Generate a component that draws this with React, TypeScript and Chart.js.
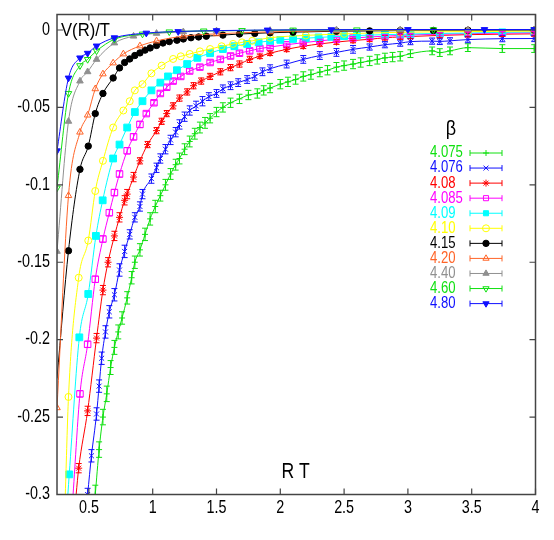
import React, { useEffect, useRef } from 'react';
import { Chart, registerables } from 'chart.js';
import { drawPoint } from 'chart.js/helpers';

Chart.register(...registerables);

// ---------------- data ----------------
const betaLabels = ['4.075', '4.076', '4.08', '4.085', '4.09', '4.10', '4.15', '4.20', '4.40', '4.60', '4.80'];

const xTickValues = [0.5, 1, 1.5, 2, 2.5, 3, 3.5, 4];
const xTickLabels = ['0.5', '1', '1.5', '2', '2.5', '3', '3.5', '4'];
const yTickValues = [-0.3, -0.25, -0.2, -0.15, -0.1, -0.05, 0];
const yTickLabels = ['-0.3', '-0.25', '-0.2', '-0.15', '-0.1', '-0.05', '0'];

const x4075 = [0.55, 0.58, 0.61, 0.64, 0.67, 0.70, 0.73, 0.76, 0.80, 0.835, 0.86, 0.90, 0.94, 0.98, 1.02, 1.06, 1.10, 1.14, 1.18, 1.21, 1.25, 1.29, 1.33, 1.37, 1.41, 1.45, 1.50, 1.55, 1.61, 1.68, 1.75, 1.82, 1.87, 1.92, 2.00, 2.06, 2.12, 2.18, 2.24, 2.31, 2.37, 2.44, 2.50, 2.57, 2.63, 2.70, 2.76, 2.82, 2.88, 2.94, 3.02, 3.19, 3.25, 3.33, 3.47, 3.74, 3.99];
const y4075 = [-0.300, -0.271, -0.250, -0.235, -0.218, -0.205, -0.195, -0.186, -0.173, -0.160, -0.150, -0.142, -0.132, -0.122, -0.114, -0.107, -0.100, -0.093, -0.087, -0.083, -0.077, -0.072, -0.067, -0.063, -0.060, -0.057, -0.053, -0.050, -0.047, -0.0445, -0.042, -0.041, -0.039, -0.0375, -0.035, -0.0335, -0.032, -0.030, -0.0288, -0.0272, -0.026, -0.024, -0.023, -0.022, -0.021, -0.020, -0.019, -0.018, -0.0175, -0.017, -0.0153, -0.0135, -0.0146, -0.0135, -0.0114, -0.012, -0.012];
const e4075 = [0.006, 0.005, 0.005, 0.005, 0.0045, 0.0045, 0.0045, 0.004, 0.004, 0.004, 0.004, 0.004, 0.004, 0.004, 0.004, 0.0035, 0.0035, 0.0035, 0.0035, 0.0035, 0.0035, 0.0035, 0.0035, 0.0035, 0.0035, 0.003, 0.003, 0.003, 0.003, 0.003, 0.003, 0.003, 0.003, 0.003, 0.003, 0.003, 0.003, 0.003, 0.003, 0.003, 0.003, 0.003, 0.003, 0.003, 0.003, 0.003, 0.003, 0.003, 0.003, 0.003, 0.0025, 0.0025, 0.0025, 0.0025, 0.0025, 0.0025, 0.0025];

const x4076 = [0.49, 0.52, 0.56, 0.58, 0.60, 0.63, 0.66, 0.70, 0.74, 0.78, 0.82, 0.86, 0.90, 0.92, 0.99, 1.03, 1.06, 1.10, 1.14, 1.18, 1.21, 1.25, 1.29, 1.34, 1.39, 1.44, 1.50, 1.55, 1.61, 1.67, 1.74, 1.80, 1.86, 1.92, 2.05, 2.18, 2.31, 2.44, 2.57, 2.70, 2.82, 2.94, 3.02, 3.19, 3.25, 3.33, 3.47, 3.74, 3.99];
const y4076 = [-0.300, -0.275, -0.248, -0.230, -0.212, -0.195, -0.182, -0.171, -0.155, -0.143, -0.132, -0.121, -0.114, -0.106, -0.096, -0.089, -0.083, -0.077, -0.071, -0.066, -0.061, -0.056, -0.052, -0.049, -0.046, -0.043, -0.041, -0.038, -0.036, -0.034, -0.032, -0.030, -0.027, -0.025, -0.022, -0.019, -0.0165, -0.0145, -0.0125, -0.011, -0.0095, -0.0085, -0.0075, -0.0072, -0.0074, -0.007, -0.0062, -0.0056, -0.0055];
const e4076 = [0.004, 0.004, 0.004, 0.004, 0.004, 0.004, 0.004, 0.004, 0.004, 0.004, 0.003, 0.003, 0.003, 0.003, 0.003, 0.003, 0.003, 0.003, 0.003, 0.003, 0.003, 0.003, 0.003, 0.003, 0.003, 0.0025, 0.0025, 0.0025, 0.0025, 0.0025, 0.0025, 0.0025, 0.0025, 0.0025, 0.0025, 0.0025, 0.0025, 0.0025, 0.0025, 0.002, 0.002, 0.002, 0.002, 0.002, 0.002, 0.002, 0.002, 0.002, 0.002];

const x4080 = [0.42, 0.49, 0.56, 0.61, 0.65, 0.70, 0.74, 0.78, 0.80, 0.85, 0.90, 0.96, 1.03, 1.07, 1.11, 1.16, 1.21, 1.27, 1.32, 1.38, 1.45, 1.53, 1.61, 1.68, 1.76, 1.84, 1.92, 2.05, 2.18, 2.31, 2.44, 2.57, 2.70, 2.82, 2.94, 3.02, 3.25, 3.47, 3.74, 3.99];
const y4080 = [-0.283, -0.246, -0.199, -0.168, -0.150, -0.133, -0.121, -0.110, -0.106, -0.095, -0.0845, -0.074, -0.065, -0.059, -0.054, -0.049, -0.044, -0.040, -0.036, -0.033, -0.030, -0.027, -0.0243, -0.022, -0.019, -0.017, -0.015, -0.0125, -0.0105, -0.009, -0.0078, -0.0068, -0.006, -0.005, -0.0045, -0.0042, -0.0035, -0.003, -0.0027, -0.0025];
const e4080 = [0.003, 0.003, 0.003, 0.003, 0.003, 0.003, 0.003, 0.003, 0.003, 0.003, 0.002, 0.002, 0.002, 0.002, 0.002, 0.002, 0.002, 0.002, 0.002, 0.002, 0.002, 0.002, 0.002, 0.002, 0.002, 0.0015, 0.0015, 0.0015, 0.0015, 0.0015, 0.0015, 0.0015, 0.0015, 0.0015, 0.0015, 0.0015, 0.0015, 0.0015, 0.0015, 0.0015];

const x4085 = [0.43, 0.49, 0.55, 0.61, 0.66, 0.70, 0.74, 0.80, 0.85, 0.90, 0.95, 1.01, 1.06, 1.11, 1.16, 1.22, 1.29, 1.37, 1.45, 1.53, 1.61, 1.68, 1.76, 1.84, 1.92, 2.05, 2.18, 2.31, 2.44, 2.57, 2.70, 2.82, 2.94, 3.02, 3.25, 3.47, 3.74, 3.99];
const y4085 = [-0.235, -0.203, -0.161, -0.135, -0.118, -0.105, -0.093, -0.078, -0.069, -0.061, -0.054, -0.047, -0.041, -0.037, -0.033, -0.030, -0.0265, -0.024, -0.021, -0.019, -0.0168, -0.015, -0.0135, -0.012, -0.011, -0.0095, -0.0082, -0.007, -0.006, -0.0052, -0.0045, -0.004, -0.0035, -0.0032, -0.0027, -0.0024, -0.002, -0.0018];
const e4085 = [0.002, 0.002, 0.002, 0.002, 0.002, 0.002, 0.002, 0.002, 0.002, 0.002, 0.0015, 0.0015, 0.0015, 0.0015, 0.0015, 0.0015, 0.0015, 0.0015, 0.0015, 0.0015, 0.0015, 0.0015, 0.0015, 0.0015, 0.001, 0.001, 0.001, 0.001, 0.001, 0.001, 0.001, 0.001, 0.001, 0.001, 0.001, 0.001, 0.001, 0.001];

const x4090 = [0.346, 0.425, 0.495, 0.555, 0.608, 0.69, 0.74, 0.80, 0.86, 0.92, 0.99, 1.06, 1.12, 1.19, 1.27, 1.35, 1.45, 1.55, 1.64, 1.74, 1.83, 1.92, 2.00, 2.10, 2.20, 2.30, 2.40, 2.50, 2.60, 2.70, 2.82, 2.94, 3.02, 3.25, 3.47, 3.74, 3.99];
const y4090 = [-0.287, -0.1985, -0.1705, -0.133, -0.110, -0.083, -0.074, -0.063, -0.053, -0.046, -0.039, -0.034, -0.030, -0.026, -0.022, -0.018, -0.015, -0.0123, -0.0105, -0.009, -0.008, -0.007, -0.0064, -0.0058, -0.0053, -0.0048, -0.0044, -0.004, -0.0036, -0.0033, -0.003, -0.0028, -0.0026, -0.0022, -0.002, -0.0015, -0.0013];

const x4100 = [0.34, 0.42, 0.495, 0.55, 0.61, 0.69, 0.77, 0.82, 0.86, 0.92, 0.99, 1.07, 1.16, 1.22, 1.29, 1.37, 1.45, 1.54, 1.63, 1.70, 1.78, 1.92, 2.20, 2.50, 2.94, 3.47, 3.99];
const y4100 = [-0.237, -0.160, -0.136, -0.104, -0.0845, -0.063, -0.052, -0.046, -0.039, -0.035, -0.028, -0.023, -0.0187, -0.017, -0.0155, -0.0138, -0.0123, -0.0105, -0.009, -0.008, -0.007, -0.005, -0.0035, -0.0025, -0.0015, -0.001, -0.0008];

const x4150 = [0.34, 0.43, 0.495, 0.55, 0.61, 0.69, 0.74, 0.78, 0.82, 0.86, 0.90, 0.94, 0.98, 1.03, 1.08, 1.13, 1.19, 1.24, 1.30, 1.36, 1.42, 1.55, 1.68, 1.80, 1.92, 2.10, 2.44, 2.70, 2.94, 3.20, 3.47, 3.99];
const y4150 = [-0.1426, -0.090, -0.075, -0.054, -0.041, -0.031, -0.0245, -0.021, -0.0187, -0.0165, -0.0148, -0.013, -0.0116, -0.010, -0.0084, -0.0075, -0.0066, -0.0058, -0.005, -0.0045, -0.004, -0.0033, -0.0026, -0.0022, -0.0018, -0.0014, -0.0008, -0.0006, -0.0004, -0.0003, -0.0002, -0.0001];

const x4200 = [0.25, 0.34, 0.43, 0.49, 0.55, 0.61, 0.69, 0.77, 0.90, 1.03, 1.24, 1.50, 1.92, 2.44, 2.94, 3.47, 3.99];
const y4200 = [-0.244, -0.107, -0.066, -0.055, -0.038, -0.0284, -0.0213, -0.0155, -0.0103, -0.0071, -0.004, -0.0025, -0.0012, -0.0005, -0.0002, 0.0, 0.0001];

const x4400 = [0.25, 0.34, 0.43, 0.49, 0.56, 0.70, 0.85, 1.03, 1.24, 1.50, 1.92, 2.44, 2.94, 3.47, 3.99];
const y4400 = [-0.143, -0.059, -0.033, -0.027, -0.019, -0.0084, -0.004, -0.0022, -0.0012, -0.0006, -0.0003, 0, 0.0001, 0.0001, 0.0001];

const x4600 = [0.25, 0.34, 0.43, 0.49, 0.56, 0.70, 0.92, 1.13, 1.40, 1.70, 2.10, 2.60, 3.20, 3.99];
const y4600 = [-0.102, -0.041, -0.023, -0.019, -0.0135, -0.006, -0.0026, -0.0012, -0.0006, -0.0003, 0, 0.0001, 0.0002, 0.0002];

const x4800 = [0.25, 0.34, 0.43, 0.49, 0.56, 0.70, 0.95, 1.20, 1.50, 1.90, 2.40, 3.00, 3.60, 3.99];
const y4800 = [-0.078, -0.031, -0.018, -0.015, -0.0103, -0.005, -0.002, -0.001, -0.0004, 0, 0.0002, 0.0003, 0.0003, 0.0003];

// where the fitted curves leave the frame below their first data point
const fitTailX = [null, null, 0.40, 0.376, 0.335, 0.315, 0.25, null, null, null, null];
const fitTailY = [null, null, -0.30, -0.30, -0.30, -0.30, -0.225, null, null, null, null];

const seriesX = [x4075, x4076, x4080, x4085, x4090, x4100, x4150, x4200, x4400, x4600, x4800];
const seriesY = [y4075, y4076, y4080, y4085, y4090, y4100, y4150, y4200, y4400, y4600, y4800];
const seriesErr = [e4075, e4076, e4080, e4085, null, null, null, null, null, null, null];

// ---------------- styles ----------------
const GREEN = '#10e010';
const BLUE = '#1010ff';
const colors = [GREEN, BLUE, '#ff0000', '#ff00ff', '#00ffff', '#ffff00', '#000000', '#ff6428', '#909090', GREEN, BLUE];
const pointStyles = ['cross', 'crossRot', 'star', 'rect', 'rect', 'circle', 'circle', 'triangle', 'triangle', 'triangle', 'triangle'];
const filled = [false, false, false, false, true, false, true, false, true, false, true];
const rotations = [0, 0, 0, 0, 0, 0, 0, 0, 0, 180, 180];
const radii = [3, 3.5, 3.5, 4.6, 4.8, 3.5, 3.2, 3.8, 3.8, 3.8, 3.8];

const FONT = "'Liberation Sans', Arial, sans-serif";
const NARROW = 0.82;

function narrowText(ctx: CanvasRenderingContext2D, text: string, x: number, y: number, align: CanvasTextAlign, sx = NARROW) {
  ctx.save();
  ctx.translate(x, y);
  ctx.scale(sx, 1);
  ctx.textAlign = align;
  ctx.textBaseline = 'middle';
  ctx.fillText(text, 0, 0);
  ctx.restore();
}

const frameTicksPlugin = {
  id: 'frameTicks',
  afterDraw(chart: any) {
    const { ctx, chartArea: a, scales } = chart;
    ctx.save();
    ctx.strokeStyle = '#444';
    ctx.lineWidth = 1.5;
    ctx.strokeRect(a.left, a.top, a.right - a.left, a.bottom - a.top);
    ctx.lineWidth = 1.2;
    const L = 6;
    ctx.beginPath();
    xTickValues.forEach((v) => {
      const px = scales.x.getPixelForValue(v);
      ctx.moveTo(px, a.bottom);
      ctx.lineTo(px, a.bottom - L);
      ctx.moveTo(px, a.top);
      ctx.lineTo(px, a.top + L);
    });
    yTickValues.forEach((v) => {
      const py = scales.y.getPixelForValue(v);
      ctx.moveTo(a.left, py);
      ctx.lineTo(a.left + L, py);
      ctx.moveTo(a.right, py);
      ctx.lineTo(a.right - L, py);
    });
    ctx.stroke();

    // tick labels
    ctx.fillStyle = '#000';
    ctx.font = `17.5px ${FONT}`;
    xTickValues.forEach((v, i) => {
      narrowText(ctx, xTickLabels[i], scales.x.getPixelForValue(v), a.bottom + 14, 'center');
    });
    yTickValues.forEach((v, i) => {
      narrowText(ctx, yTickLabels[i], a.left - 7, scales.y.getPixelForValue(v), 'right');
    });

    // axis titles
    ctx.font = `17.5px ${FONT}`;
    narrowText(ctx, 'V(R)/T', a.left + 4, scales.y.getPixelForValue(0) + 1, 'left', 0.95);
    ctx.font = `22px ${FONT}`;
    narrowText(ctx, 'R T', scales.x.getPixelForValue(2.12), a.bottom - 23, 'center', 0.8);

    // legend
    const textX = 430;
    const s1 = 470;
    const s2 = 502;
    const y0 = 153;
    const dy = 15.06;
    ctx.font = `20px ${FONT}`;
    narrowText(ctx, 'β', 451, 129, 'center', 0.9);
    ctx.font = `16px ${FONT}`;
    betaLabels.forEach((lab, i) => {
      const y = y0 + i * dy;
      ctx.fillStyle = colors[i];
      narrowText(ctx, lab, textX, y, 'left');
      ctx.strokeStyle = colors[i];
      ctx.lineWidth = 1;
      ctx.beginPath();
      ctx.moveTo(s1, y);
      ctx.lineTo(s2, y);
      ctx.moveTo(s1, y - 3);
      ctx.lineTo(s1, y + 3);
      ctx.moveTo(s2, y - 3);
      ctx.lineTo(s2, y + 3);
      ctx.stroke();
      ctx.fillStyle = filled[i] ? colors[i] : 'rgba(0,0,0,0)';
      drawPoint(ctx, { pointStyle: pointStyles[i], radius: Math.min(radii[i], 3.6), rotation: rotations[i], borderWidth: 1 }, (s1 + s2) / 2, y);
    });
    ctx.restore();
  },
};

const errorBarPlugin = {
  id: 'errorBars',
  afterDatasetsDraw(chart: any) {
    const { ctx, chartArea: a, scales } = chart;
    ctx.save();
    ctx.beginPath();
    ctx.rect(a.left, a.top, a.right - a.left, a.bottom - a.top);
    ctx.clip();
    chart.data.datasets.forEach((ds: any) => {
      ctx.strokeStyle = ds.borderColor;
      ctx.lineWidth = 1;
      ctx.beginPath();
      ds.data.forEach((p: any) => {
        if (p.e == null) return;
        const px = scales.x.getPixelForValue(p.x);
        const yt = scales.y.getPixelForValue(p.y + p.e);
        const yb = scales.y.getPixelForValue(p.y - p.e);
        ctx.moveTo(px, yt);
        ctx.lineTo(px, yb);
        ctx.moveTo(px - 3, yt);
        ctx.lineTo(px + 3, yt);
        ctx.moveTo(px - 3, yb);
        ctx.lineTo(px + 3, yb);
      });
      ctx.stroke();
    });
    ctx.restore();
  },
};

export default function App() {
  const ref = useRef<HTMLCanvasElement | null>(null);
  useEffect(() => {
    document.body.style.margin = '0';
    const canvas = ref.current;
    if (!canvas) return;
    const datasets = betaLabels.map((lab, i) => {
      const errs = seriesErr[i];
      const pts: any[] = seriesX[i].map((x, j) => ({ x, y: seriesY[i][j], e: errs ? errs[j] : null }));
      if (fitTailX[i] != null) pts.unshift({ x: fitTailX[i], y: fitTailY[i], e: null, tail: true });
      return {
        label: lab,
        data: pts,
        showLine: true,
        borderColor: colors[i],
        backgroundColor: filled[i] ? colors[i] : 'rgba(0,0,0,0)',
        borderWidth: 1,
        pointStyle: pointStyles[i],
        pointRotation: rotations[i],
        pointRadius: (c: any) => (c.raw && c.raw.tail ? 0 : radii[i]),
        pointHoverRadius: 0,
        pointBorderWidth: 1,
        pointBorderColor: colors[i],
        pointBackgroundColor: filled[i] ? colors[i] : 'rgba(0,0,0,0)',
        cubicInterpolationMode: 'monotone' as const,
        order: 11 - i,
      };
    });
    const chart = new Chart(canvas, {
      type: 'scatter',
      data: { datasets },
      options: {
        animation: false,
        responsive: false,
        events: [],
        layout: { padding: { top: 14.5, right: 18.5, left: 0, bottom: 0 } },
        plugins: { legend: { display: false }, tooltip: { enabled: false } },
        scales: {
          x: {
            type: 'linear',
            min: 0.25,
            max: 4,
            grid: { display: false, drawTicks: false },
            border: { display: false },
            afterBuildTicks: (s: any) => {
              s.ticks = xTickValues.map((v) => ({ value: v }));
            },
            afterFit: (s: any) => {
              s.height = 45.5;
            },
            ticks: { display: false },
          },
          y: {
            type: 'linear',
            min: -0.3,
            max: 0.01,
            grid: { display: false, drawTicks: false },
            border: { display: false },
            afterBuildTicks: (s: any) => {
              s.ticks = yTickValues.map((v) => ({ value: v }));
            },
            afterFit: (s: any) => {
              s.width = 57;
            },
            ticks: { display: false },
          },
        },
      },
      plugins: [errorBarPlugin, frameTicksPlugin],
    });
    return () => chart.destroy();
  }, []);
  return (
    <div style={{ width: 554, height: 540, position: 'relative' }}>
      <canvas ref={ref} width={554} height={540} style={{ position: 'absolute', left: 0, top: 0 }} />
    </div>
  );
}
